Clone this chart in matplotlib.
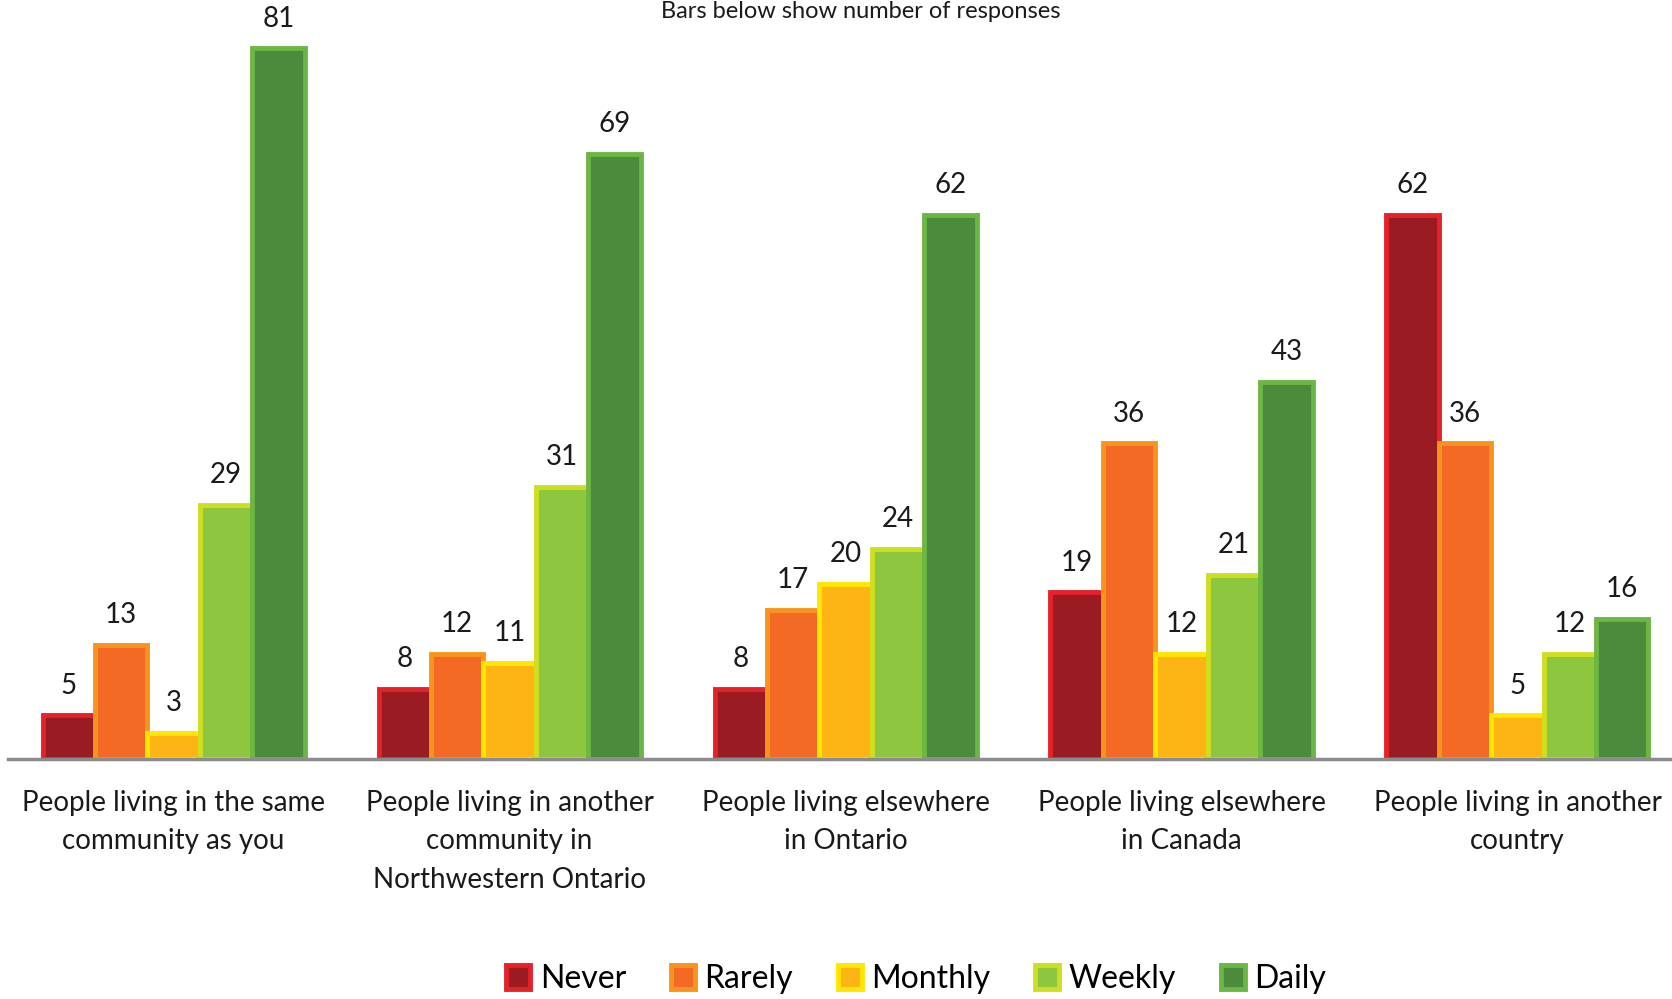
import numpy as np
import matplotlib
matplotlib.use('Agg')
import matplotlib.pyplot as plt

# data (number of responses)
categories = ['People living in the same\ncommunity as you',
              'People living in another\ncommunity in\nNorthwestern Ontario',
              'People living elsewhere\nin Ontario',
              'People living elsewhere\nin Canada',
              'People living in another\ncountry']
series = ['Never', 'Rarely', 'Monthly', 'Weekly', 'Daily']
never = [5, 8, 8, 19, 62]
rarely = [13, 12, 17, 36, 36]
monthly = [3, 11, 20, 12, 5]
weekly = [29, 31, 24, 21, 12]
daily = [81, 69, 62, 43, 16]

face_colors = ['#9B1B22', '#F26A24', '#FDB515', '#8DC63F', '#4B8B3B']
edge_colors = ['#E5212A', '#F7941E', '#FFE600', '#D0DE22', '#6CB643']

plt.rcParams['font.family'] = ['Lato', 'DejaVu Sans']

fig = plt.figure(figsize=(16.72, 9.99), dpi=100)
ax = fig.add_axes([0.005, 0.240, 0.995, 0.760])

x = np.arange(len(categories))
w = 0.156
all_vals = [never, rarely, monthly, weekly, daily]
for i, vals in enumerate(all_vals):
    pos = x + (i - 2) * w
    ax.bar(pos, vals, width=w, color=face_colors[i],
           edgecolor=edge_colors[i], linewidth=3.5, label=series[i], zorder=2)
    for xp, v in zip(pos, vals):
        ax.annotate(str(v), (xp, v), xytext=(0, 12), textcoords='offset points',
                    ha='center', va='bottom', fontsize=20, color='#1a1a1a')

ax.set_xlim(-0.492, 4.46)
ax.set_ylim(0, 86.5)
ax.set_xticks(x)
ax.set_xticklabels(categories, fontsize=20, color='#1a1a1a', linespacing=1.6)
ax.tick_params(axis='x', length=0, pad=22)
ax.set_yticks([])
for s in ['top', 'right', 'left']:
    ax.spines[s].set_visible(False)
ax.spines['bottom'].set_color('#8C8C8C')
ax.spines['bottom'].set_linewidth(2.5)
ax.spines['bottom'].set_zorder(3)

fig.text(0.515, 0.999, 'Bars below show number of responses', ha='center', va='top',
         fontsize=17, color='#1a1a1a')

fig.legend(loc='center', bbox_to_anchor=(0.548, 0.02), ncol=5, frameon=False,
           fontsize=23, handlelength=0.75, handleheight=0.75, handletextpad=0.3,
           columnspacing=1.4)

plt.savefig('out.png', dpi=100)
